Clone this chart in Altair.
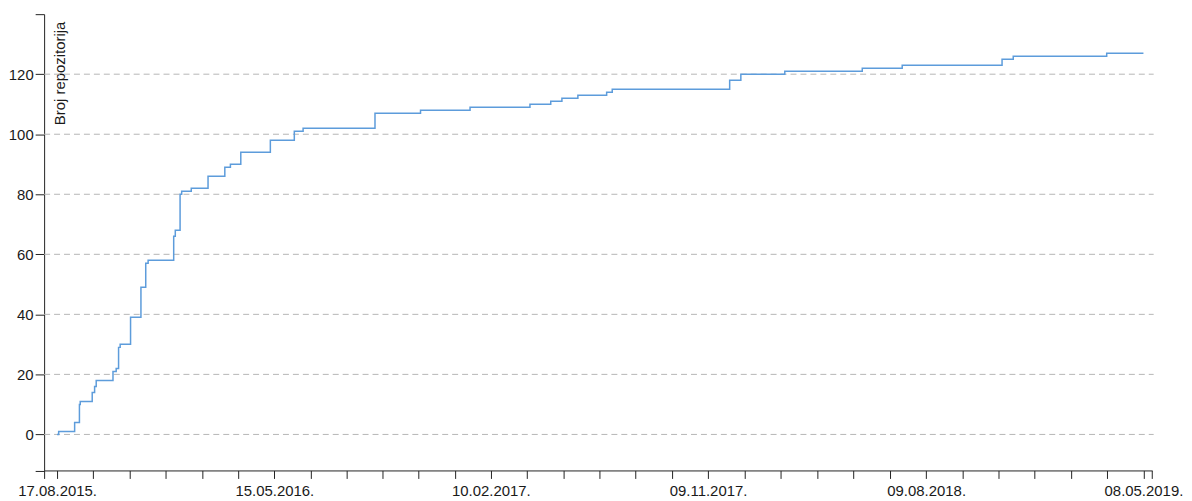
import altair as alt
import pandas as pd

# ---- data ----
dates = ["2015-08-17", "2015-08-19", "2015-09-08", "2015-09-14", "2015-09-15",
         "2015-09-30", "2015-10-03", "2015-10-05", "2015-10-26", "2015-10-30",
         "2015-11-02", "2015-11-04", "2015-11-17", "2015-11-30", "2015-12-06",
         "2015-12-09", "2016-01-10", "2016-01-12", "2016-01-18", "2016-01-20",
         "2016-02-01", "2016-02-22", "2016-03-14", "2016-03-21", "2016-04-03",
         "2016-05-10", "2016-06-09", "2016-06-20", "2016-09-18", "2016-11-14",
         "2017-01-15", "2017-03-31", "2017-04-26", "2017-05-10", "2017-05-30",
         "2017-07-05", "2017-07-12", "2017-12-06", "2017-12-20", "2018-02-13",
         "2018-05-21", "2018-07-10", "2018-11-12", "2018-11-26", "2019-03-23",
         "2019-05-08"]
counts = [0, 1, 4, 10, 11, 14, 16, 18, 21, 22, 29, 30, 39, 49, 57, 58, 66, 68,
          80, 81, 82, 86, 89, 90, 94, 98, 101, 102, 107, 108, 109, 110, 111,
          112, 113, 114, 115, 118, 120, 121, 122, 123, 125, 126, 127, 127]

label_dates = ["2015-08-17", "2016-05-15", "2017-02-10", "2017-11-09",
               "2018-08-09", "2019-05-08"]
y_ticks = [0, 20, 40, 60, 80, 100, 120]
y_domain = [-12, 140]
y_title = "Broj repozitorija"

DAY = 86400000


def ms(d):
    return int(pd.Timestamp(d, tz="UTC").timestamp() * 1000)


major = [ms(d) for d in label_dates]
x_start = major[0] - int(16.2 * DAY)
x_end = major[0] + int(1370.9 * DAY)

ticks = [x_start]
for a, b in zip(major[:-1], major[1:]):
    for k in range(6):
        ticks.append(int(round(a + (b - a) * k / 6)))
ticks.append(major[-1])
ticks.append(x_end)

label_list = ",".join(str(m) for m in major)
x_label_expr = (f"indexof([{label_list}], time(datum.value)) >= 0 ? "
                f"utcFormat(datum.value, '%d.%m.%Y.') : ''")

df = pd.DataFrame({"date": dates, "count": counts})
grid_df = pd.DataFrame({"count": y_ticks})

W = 1113.4
H = 458.5
FONT = "Liberation Sans, Arial, sans-serif"
AXIS_COLOR = "#222"
TEXT_COLOR = "#1a1a1a"

y_scale = alt.Scale(domain=y_domain, nice=False, zero=False)

y_axis = alt.Axis(
    values=[y_domain[0]] + y_ticks + [y_domain[1]],
    labelExpr="datum.value < 0 || datum.value > 130 ? '' : datum.label",
    grid=False,
    tickSize=9,
    labelPadding=2,
    labelFontSize=15,
    labelFont=FONT,
    labelColor=TEXT_COLOR,
    labelFlush=False,
    labelOverlap=False,
    domainColor=AXIS_COLOR,
    tickColor=AXIS_COLOR,
    title=y_title,
    titleFont=FONT,
    titleFontSize=15,
    titleFontWeight="normal",
    titleColor=TEXT_COLOR,
    titleAngle=270,
    titleAlign="right",
    titleBaseline="alphabetic",
    titleX=20,
    titleY=7,
)

x_axis = alt.Axis(
    values=ticks,
    labelExpr=x_label_expr,
    title=None,
    grid=False,
    tickSize=8,
    labelPadding=5,
    labelFontSize=15,
    labelFont=FONT,
    labelColor=TEXT_COLOR,
    labelFlush=False,
    labelOverlap=False,
    labelBound=False,
    domainColor=AXIS_COLOR,
    tickColor=AXIS_COLOR,
    domainWidth=1,
    tickWidth=1,
)

grid = alt.Chart(grid_df).mark_rule(
    color="#b5b5b5", strokeWidth=1, strokeDash=[6, 4]
).encode(
    y=alt.Y("count:Q", scale=y_scale, axis=y_axis),
    x=alt.value(0),
    x2=alt.value(W + 1.5),
)

line = alt.Chart(df).mark_line(
    interpolate="step-after", color="#5d9cdb", strokeWidth=1.5
).encode(
    x=alt.X(
        "date:T",
        scale=alt.Scale(type="utc", domain=[x_start, x_end], nice=False),
        axis=x_axis,
    ),
    y=alt.Y("count:Q", scale=y_scale, axis=y_axis),
)

chart = alt.layer(grid, line).properties(
    width=W,
    height=H,
    background="white",
    autosize=alt.AutoSizeParams(type="none"),
    padding={"left": 36.3, "top": 5, "right": 32, "bottom": 28},
).configure_view(strokeWidth=0, stroke="transparent")

chart.save("out.html", embed_options={"renderer": "svg", "actions": False})
